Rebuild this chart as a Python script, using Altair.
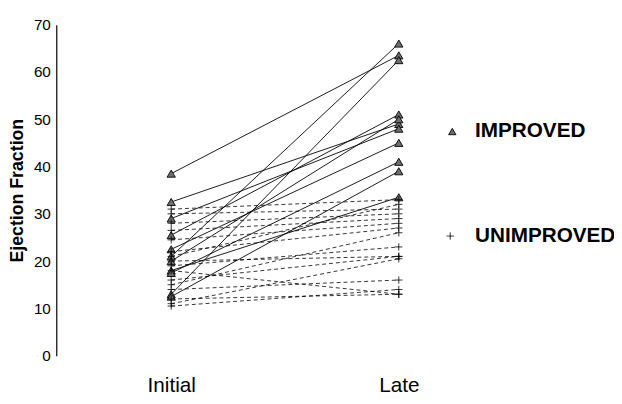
import altair as alt
import pandas as pd

# Ejection fraction, improved patients (solid lines, triangles)
imp_initial = [38.5, 32.5, 29.0, 25.5, 22.5, 21.0, 20.0, 18.0, 17.5, 13.0, 12.5]
imp_late    = [63.5, 49.0, 48.0, 51.0, 45.0, 66.0, 50.0, 33.5, 41.0, 62.5, 39.0]

# Unimproved patients (dashed lines, plus marks)
unimp_initial = [31.0, 30.0, 28.0, 26.5, 24.5, 22.0, 21.0, 20.0, 19.0, 18.0, 16.0, 15.0, 14.0, 12.0, 11.0, 10.5]
unimp_late    = [33.0, 31.0, 30.0, 29.0, 28.0, 27.0, 32.0, 21.0, 23.0, 13.0, 21.0, 26.0, 16.0, 13.0, 20.5, 14.0]

time_labels = ["Initial", "Late"]
legend_labels = ["IMPROVED", "UNIMPROVED"]

rows = []
for i, (a, b) in enumerate(zip(imp_initial, imp_late)):
    rows.append({"id": f"i{i}", "t": 0, "ef": a, "group": "IMPROVED"})
    rows.append({"id": f"i{i}", "t": 1, "ef": b, "group": "IMPROVED"})
for i, (a, b) in enumerate(zip(unimp_initial, unimp_late)):
    rows.append({"id": f"u{i}", "t": 0, "ef": a, "group": "UNIMPROVED"})
    rows.append({"id": f"u{i}", "t": 1, "ef": b, "group": "UNIMPROVED"})
df = pd.DataFrame(rows)
imp = df[df.group == "IMPROVED"]
unimp = df[df.group == "UNIMPROVED"]

xscale = alt.Scale(domain=[-0.505, 1.885], nice=False, zero=False)
yscale = alt.Scale(domain=[0, 70], nice=False)

FONT = "Liberation Sans"

x_enc = alt.X("t:Q", scale=xscale, title=None,
              axis=alt.Axis(values=[0, 1],
                            labelExpr=f"datum.value == 0 ? '{time_labels[0]}' : '{time_labels[1]}'",
                            domain=False, ticks=False, grid=False, labelFontSize=21,
                            labelFont=FONT, labelColor="black", labelPadding=19,
                            labelFlush=False))
y_enc = alt.Y("ef:Q", scale=yscale, title="Ejection Fraction",
              axis=alt.Axis(values=[0, 10, 20, 30, 40, 50, 60, 70], ticks=False, grid=False,
                            domainColor="black", domainWidth=1.2, labelFontSize=15.5,
                            labelFont=FONT, labelColor="black", labelPadding=6,
                            titleFont=FONT, titleFontSize=18, titleFontWeight="bold",
                            titleColor="black", titlePadding=7))

imp_lines = alt.Chart(imp).mark_line(color="black", strokeWidth=0.9).encode(
    x=x_enc, y=y_enc, detail="id:N")
unimp_lines = alt.Chart(unimp).mark_line(color="black", strokeWidth=0.8, strokeDash=[4, 3]).encode(
    x="t:Q", y="ef:Q", detail="id:N")

plus_path = "M-1,0H1M0,-1V1"
imp_pts = alt.Chart(imp).mark_point(shape="triangle-up", size=70, filled=True,
                                    fill="#6e6e6e", stroke="black", strokeWidth=0.9,
                                    opacity=1).encode(x="t:Q", y="ef:Q")
unimp_pts = alt.Chart(unimp).mark_point(shape=plus_path, size=55, filled=False,
                                        stroke="black", strokeWidth=0.8, opacity=1).encode(
    x="t:Q", y="ef:Q")

leg_df = pd.DataFrame({"label": legend_labels, "mx": [1.235, 1.226], "tx": [1.335, 1.335],
                       "ly": [47.4, 25.3]})
leg_tri = alt.Chart(leg_df[leg_df.label == "IMPROVED"]).mark_point(
    shape="triangle-up", size=55, filled=True, fill="#6e6e6e", stroke="black",
    strokeWidth=0.9, opacity=1, clip=False).encode(x="mx:Q", y="ly:Q")
leg_plus = alt.Chart(leg_df[leg_df.label == "UNIMPROVED"]).mark_point(
    shape=plus_path, size=55, filled=False, stroke="black", strokeWidth=0.8,
    opacity=1, clip=False).encode(x="mx:Q", y="ly:Q")
leg_text = alt.Chart(leg_df).mark_text(align="left", baseline="middle", fontSize=21,
                                       fontWeight="bold", font=FONT, color="black",
                                       clip=False).encode(
    x="tx:Q", y="ly:Q", text="label:N")

chart = alt.layer(imp_lines, unimp_lines, imp_pts, unimp_pts, leg_tri, leg_plus, leg_text).properties(
    width=552, height=336,
    autosize=alt.AutoSizeParams(type="none"),
    padding={"left": 49, "top": 14, "right": 14, "bottom": 38},
    background="white",
).configure_view(stroke=None)

chart.save("out.html", embed_options={"renderer": "svg", "actions": False})
